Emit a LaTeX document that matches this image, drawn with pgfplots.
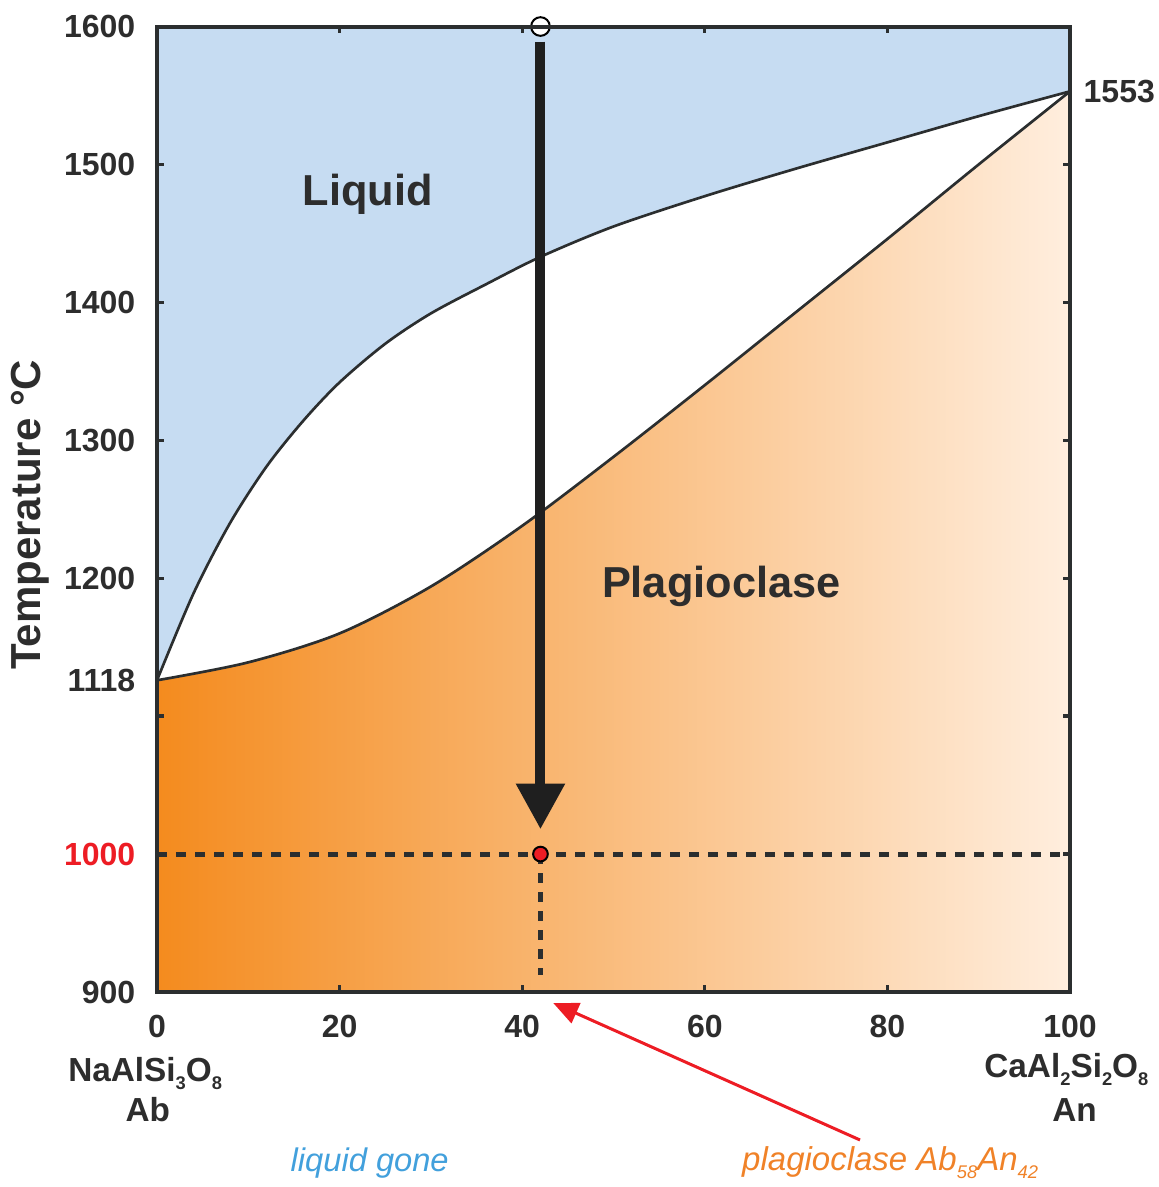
\documentclass[border=0pt]{standalone}
\usepackage{pgfplots}
\pgfplotsset{compat=1.18}
\usepgfplotslibrary{fillbetween}
\usetikzlibrary{arrows.meta}
\usepackage{fontspec}
\setmainfont{Liberation Sans}

\definecolor{liqblue}{RGB}{198,220,242}
\definecolor{orgL}{RGB}{244,139,30}
\definecolor{orgR}{RGB}{255,238,222}
\definecolor{ink}{RGB}{43,46,47}
\definecolor{txt}{RGB}{45,45,45}
\definecolor{redA}{RGB}{237,28,36}
\definecolor{blueT}{RGB}{66,160,220}
\definecolor{orgT}{RGB}{240,130,40}

% small chemistry subscripts as in the figure
\newcommand{\sub}[1]{\raisebox{-0.45ex}{\fontsize{5.5}{6}\selectfont #1}}

\begin{document}
\begin{tikzpicture}
\begin{axis}[
  set layers, axis on top, scale only axis,
  width=273.9pt, height=289.65pt,
  xmin=0, xmax=100, ymin=900, ymax=1600,
  clip=false,
  axis line style={ink, line width=1.2pt},
  tick style={ink, line width=1pt},
  tick align=inside, major tick length=2pt,
  xtick={0,20,40,60,80,100}, xticklabels={0,20,40,60,80,100},
  ytick={900,1000,1100,1200,1300,1400,1500,1600},
  yticklabels={900,\textcolor{redA}{1000},,1200,1300,1400,1500,1600},
  extra y ticks={1126}, extra y tick labels={1118},
  extra y tick style={major tick length=0pt},
  ticklabel style={font=\bfseries\fontsize{9.6}{11}\selectfont, text=txt},
  yticklabel style={xshift=-3pt},
  xticklabel style={yshift=-3.5pt},
]
% background gradient (plagioclase field)
\addplot[draw=none, left color=orgL, right color=orgR, on layer=axis background]
  coordinates {(0,900)(100,900)(100,1600)(0,1600)};

% liquidus
\addplot[name path=liq, smooth, ink, line width=0.8pt] coordinates {
  (0,1126)(4,1189)(8,1240)(12,1281)(16,1314)(20,1342)(25,1370)(30,1392)
  (36,1413)(42,1433)(50,1455)(60,1477)(70,1497)(80,1516)(90,1535)(100,1553)};
% solidus
\addplot[name path=sol, smooth, ink, line width=0.8pt] coordinates {
  (0,1126)(10,1139)(20,1160)(30,1194)(40,1238)(50,1288)(60,1340)
  (70,1393)(80,1446)(90,1500)(100,1553)};
\addplot[name path=top, draw=none] coordinates {(0,1600)(100,1600)};

\addplot[liqblue] fill between[of=liq and top];
\addplot[white] fill between[of=liq and sol];

% cooling path
\addplot[ink, line width=1.5pt, dash pattern=on 3pt off 2.7pt] coordinates {(0,1000)(100,1000)};
\addplot[ink, line width=1.5pt, dash pattern=on 3pt off 2.7pt] coordinates {(42,1000)(42,912)};
\addplot[black!88, line width=3pt, -{Triangle[width=14pt,length=13.7pt]}] coordinates {(42,1589)(42,1018)};
\addplot[only marks, mark=*, mark size=2.8pt, mark options={fill=white, draw=black, line width=0.6pt}, on layer=axis foreground] coordinates {(42,1600)};
\addplot[only marks, mark=*, mark size=2.2pt, mark options={fill=redA, draw=black, line width=0.6pt}] coordinates {(42,1000)};

% labels
\node[font=\bfseries\fontsize{13}{15}\selectfont, text=txt] at (axis cs:23.1,1478) {Liquid};
\node[font=\bfseries\fontsize{13}{15}\selectfont, text=txt] at (axis cs:61.8,1194) {Plagioclase};
\node[font=\bfseries\fontsize{9.6}{11}\selectfont, text=txt, anchor=west, inner sep=0pt, xshift=3.9pt] at (axis cs:100,1553) {1553};
\node[font=\bfseries\fontsize{12.6}{14}\selectfont, text=txt, rotate=90] at (axis cs:-13.9,1246) {Temperature °C};
\node[font=\bfseries\fontsize{10}{12}\selectfont, text=txt] at (axis cs:-1.3,841) {NaAlSi\sub{3}O\sub{8}};
\node[font=\bfseries\fontsize{10}{12}\selectfont, text=txt] at (axis cs:-1.0,814.5) {Ab};
\node[font=\bfseries\fontsize{10}{12}\selectfont, text=txt] at (axis cs:99.6,843.5) {CaAl\sub{2}Si\sub{2}O\sub{8}};
\node[font=\bfseries\fontsize{10}{12}\selectfont, text=txt] at (axis cs:100.5,814.5) {An};
\node[font=\itshape\fontsize{9.8}{12}\selectfont, text=blueT] at (axis cs:23.3,776) {liquid gone};
\node[font=\itshape\fontsize{9.9}{12}\selectfont, text=orgT] at (axis cs:80.3,776) {plagioclase Ab\sub{58}An\sub{42}};
\draw[redA, line width=0.9pt, -{Triangle[length=7.5pt,width=6.5pt]}] (axis cs:77,792.7) -- (axis cs:43.4,892);
\end{axis}
\pgfresetboundingbox
\path[use as bounding box] ([shift={(-47.1pt,-58.5pt)}]current axis.south west) rectangle ([shift={(300.6pt,297.6pt)}]current axis.south west);
\end{tikzpicture}
\end{document}
